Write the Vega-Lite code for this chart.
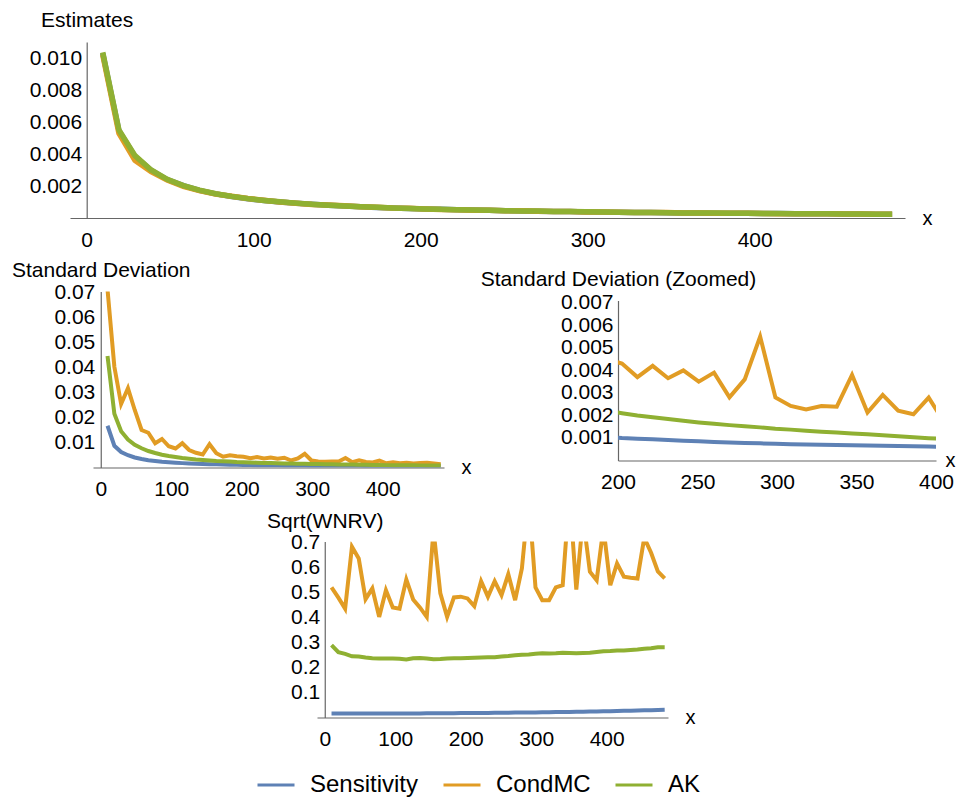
{
  "$schema": "https://vega.github.io/schema/vega-lite/v6.json",
  "autosize": {"type": "none"},
  "padding": {"left": 70, "top": 42, "right": 890, "bottom": 756},
  "bounds": "flush",
  "spacing": 73.5,
  "config": {
    "view": {"stroke": null},
    "font": "Liberation Sans",
    "axis": {"grid": false, "domainColor": "#666", "tickColor": "#666", "domainWidth": 1.2, "tickWidth": 1.2, "tickSize": 0, "labelFontSize": 21, "labelColor": "#000", "titleFontSize": 21, "titleFontWeight": "normal", "titleColor": "#000", "labelFlush": false, "labelOverlap": false}
  },
  "datasets": {
    "est": [
      {"x":9.6,"method":"Sensitivity","value":0.0103},{"x":19.3,"method":"Sensitivity","value":0.00545},{"x":28.9,"method":"Sensitivity","value":0.00385},{"x":38.6,"method":"Sensitivity","value":0.00298},{"x":48.2,"method":"Sensitivity","value":0.0024},{"x":57.9,"method":"Sensitivity","value":0.00202},{"x":67.5,"method":"Sensitivity","value":0.00173},{"x":77.2,"method":"Sensitivity","value":0.00151},{"x":86.8,"method":"Sensitivity","value":0.00134},{"x":96.5,"method":"Sensitivity","value":0.0012},
      {"x":106.1,"method":"Sensitivity","value":0.00109},{"x":115.7,"method":"Sensitivity","value":0.001},{"x":125.4,"method":"Sensitivity","value":0.00092},{"x":135,"method":"Sensitivity","value":0.00086},{"x":144.7,"method":"Sensitivity","value":0.0008},{"x":154.3,"method":"Sensitivity","value":0.00075},{"x":164,"method":"Sensitivity","value":0.0007},{"x":173.6,"method":"Sensitivity","value":0.00066},{"x":183.3,"method":"Sensitivity","value":0.00063},{"x":192.9,"method":"Sensitivity","value":0.0006},
      {"x":202.5,"method":"Sensitivity","value":0.00057},{"x":212.2,"method":"Sensitivity","value":0.00054},{"x":221.8,"method":"Sensitivity","value":0.00052},{"x":231.5,"method":"Sensitivity","value":0.0005},{"x":241.1,"method":"Sensitivity","value":0.00048},{"x":250.8,"method":"Sensitivity","value":0.00046},{"x":260.4,"method":"Sensitivity","value":0.00044},{"x":270.1,"method":"Sensitivity","value":0.00042},{"x":279.7,"method":"Sensitivity","value":0.00041},{"x":289.4,"method":"Sensitivity","value":0.0004},
      {"x":299,"method":"Sensitivity","value":0.00038},{"x":308.6,"method":"Sensitivity","value":0.00037},{"x":318.3,"method":"Sensitivity","value":0.00036},{"x":327.9,"method":"Sensitivity","value":0.00035},{"x":337.6,"method":"Sensitivity","value":0.00034},{"x":347.2,"method":"Sensitivity","value":0.00033},{"x":356.9,"method":"Sensitivity","value":0.00032},{"x":366.5,"method":"Sensitivity","value":0.00031},{"x":376.2,"method":"Sensitivity","value":0.0003},{"x":385.8,"method":"Sensitivity","value":0.0003},
      {"x":395.4,"method":"Sensitivity","value":0.00029},{"x":405.1,"method":"Sensitivity","value":0.00028},{"x":414.7,"method":"Sensitivity","value":0.00028},{"x":424.4,"method":"Sensitivity","value":0.00027},{"x":434,"method":"Sensitivity","value":0.00026},{"x":443.7,"method":"Sensitivity","value":0.00026},{"x":453.3,"method":"Sensitivity","value":0.00025},{"x":463,"method":"Sensitivity","value":0.00025},{"x":472.6,"method":"Sensitivity","value":0.00024},{"x":482.3,"method":"Sensitivity","value":0.00024},
      {"x":9.6,"method":"CondMC","value":0.0102},{"x":19.3,"method":"CondMC","value":0.0053},{"x":28.9,"method":"CondMC","value":0.0036},{"x":38.6,"method":"CondMC","value":0.0029},{"x":48.2,"method":"CondMC","value":0.00238},{"x":57.9,"method":"CondMC","value":0.00198},{"x":67.5,"method":"CondMC","value":0.00171},{"x":77.2,"method":"CondMC","value":0.0015},{"x":86.8,"method":"CondMC","value":0.00136},{"x":96.5,"method":"CondMC","value":0.00122},
      {"x":106.1,"method":"CondMC","value":0.00111},{"x":115.7,"method":"CondMC","value":0.001},{"x":125.4,"method":"CondMC","value":0.00092},{"x":135,"method":"CondMC","value":0.00085},{"x":144.7,"method":"CondMC","value":0.00081},{"x":154.3,"method":"CondMC","value":0.00076},{"x":164,"method":"CondMC","value":0.0007},{"x":173.6,"method":"CondMC","value":0.00067},{"x":183.3,"method":"CondMC","value":0.00062},{"x":192.9,"method":"CondMC","value":0.00061},
      {"x":202.5,"method":"CondMC","value":0.00057},{"x":212.2,"method":"CondMC","value":0.00053},{"x":221.8,"method":"CondMC","value":0.00052},{"x":231.5,"method":"CondMC","value":0.00049},{"x":241.1,"method":"CondMC","value":0.00048},{"x":250.8,"method":"CondMC","value":0.00046},{"x":260.4,"method":"CondMC","value":0.00045},{"x":270.1,"method":"CondMC","value":0.00042},{"x":279.7,"method":"CondMC","value":0.00041},{"x":289.4,"method":"CondMC","value":0.00041},
      {"x":299,"method":"CondMC","value":0.00038},{"x":308.6,"method":"CondMC","value":0.00037},{"x":318.3,"method":"CondMC","value":0.00036},{"x":327.9,"method":"CondMC","value":0.00035},{"x":337.6,"method":"CondMC","value":0.00034},{"x":347.2,"method":"CondMC","value":0.00034},{"x":356.9,"method":"CondMC","value":0.00032},{"x":366.5,"method":"CondMC","value":0.00031},{"x":376.2,"method":"CondMC","value":0.0003},{"x":385.8,"method":"CondMC","value":0.0003},
      {"x":395.4,"method":"CondMC","value":0.00029},{"x":405.1,"method":"CondMC","value":0.00028},{"x":414.7,"method":"CondMC","value":0.00027},{"x":424.4,"method":"CondMC","value":0.00027},{"x":434,"method":"CondMC","value":0.00026},{"x":443.7,"method":"CondMC","value":0.00026},{"x":453.3,"method":"CondMC","value":0.00025},{"x":463,"method":"CondMC","value":0.00025},{"x":472.6,"method":"CondMC","value":0.00024},{"x":482.3,"method":"CondMC","value":0.00024},
      {"x":9.6,"method":"AK","value":0.01035},{"x":19.3,"method":"AK","value":0.0055},{"x":28.9,"method":"AK","value":0.0039},{"x":38.6,"method":"AK","value":0.003},{"x":48.2,"method":"AK","value":0.00242},{"x":57.9,"method":"AK","value":0.00203},{"x":67.5,"method":"AK","value":0.00174},{"x":77.2,"method":"AK","value":0.00152},{"x":86.8,"method":"AK","value":0.00135},{"x":96.5,"method":"AK","value":0.00121},
      {"x":106.1,"method":"AK","value":0.0011},{"x":115.7,"method":"AK","value":0.00101},{"x":125.4,"method":"AK","value":0.00093},{"x":135,"method":"AK","value":0.00086},{"x":144.7,"method":"AK","value":0.0008},{"x":154.3,"method":"AK","value":0.00075},{"x":164,"method":"AK","value":0.00071},{"x":173.6,"method":"AK","value":0.00067},{"x":183.3,"method":"AK","value":0.00063},{"x":192.9,"method":"AK","value":0.0006},
      {"x":202.5,"method":"AK","value":0.00057},{"x":212.2,"method":"AK","value":0.00054},{"x":221.8,"method":"AK","value":0.00052},{"x":231.5,"method":"AK","value":0.0005},{"x":241.1,"method":"AK","value":0.00048},{"x":250.8,"method":"AK","value":0.00046},{"x":260.4,"method":"AK","value":0.00044},{"x":270.1,"method":"AK","value":0.00043},{"x":279.7,"method":"AK","value":0.00041},{"x":289.4,"method":"AK","value":0.0004},
      {"x":299,"method":"AK","value":0.00039},{"x":308.6,"method":"AK","value":0.00037},{"x":318.3,"method":"AK","value":0.00036},{"x":327.9,"method":"AK","value":0.00035},{"x":337.6,"method":"AK","value":0.00034},{"x":347.2,"method":"AK","value":0.00033},{"x":356.9,"method":"AK","value":0.00032},{"x":366.5,"method":"AK","value":0.00031},{"x":376.2,"method":"AK","value":0.00031},{"x":385.8,"method":"AK","value":0.0003},
      {"x":395.4,"method":"AK","value":0.00029},{"x":405.1,"method":"AK","value":0.00028},{"x":414.7,"method":"AK","value":0.00028},{"x":424.4,"method":"AK","value":0.00027},{"x":434,"method":"AK","value":0.00026},{"x":443.7,"method":"AK","value":0.00026},{"x":453.3,"method":"AK","value":0.00025},{"x":463,"method":"AK","value":0.00025},{"x":472.6,"method":"AK","value":0.00024},{"x":482.3,"method":"AK","value":0.00024}
    ],
    "sd": [
      {"x":9.6,"method":"Sensitivity","value":0.0167},{"x":19.3,"method":"Sensitivity","value":0.0087},{"x":28.9,"method":"Sensitivity","value":0.0062},{"x":38.6,"method":"Sensitivity","value":0.0049},{"x":48.2,"method":"Sensitivity","value":0.004},{"x":57.9,"method":"Sensitivity","value":0.0034},{"x":67.5,"method":"Sensitivity","value":0.0029},{"x":77.2,"method":"Sensitivity","value":0.0026},{"x":86.8,"method":"Sensitivity","value":0.0023},{"x":96.5,"method":"Sensitivity","value":0.0021},
      {"x":106.1,"method":"Sensitivity","value":0.0019},{"x":115.7,"method":"Sensitivity","value":0.00175},{"x":125.4,"method":"Sensitivity","value":0.00162},{"x":135,"method":"Sensitivity","value":0.00151},{"x":144.7,"method":"Sensitivity","value":0.00142},{"x":154.3,"method":"Sensitivity","value":0.00134},{"x":164,"method":"Sensitivity","value":0.00125},{"x":173.6,"method":"Sensitivity","value":0.00118},{"x":183.3,"method":"Sensitivity","value":0.00112},{"x":192.9,"method":"Sensitivity","value":0.00105},
      {"x":202.5,"method":"Sensitivity","value":0.001},{"x":212.2,"method":"Sensitivity","value":0.00097},{"x":221.8,"method":"Sensitivity","value":0.00094},{"x":231.5,"method":"Sensitivity","value":0.00091},{"x":241.1,"method":"Sensitivity","value":0.00088},{"x":250.8,"method":"Sensitivity","value":0.00085},{"x":260.4,"method":"Sensitivity","value":0.00082},{"x":270.1,"method":"Sensitivity","value":0.0008},{"x":279.7,"method":"Sensitivity","value":0.00078},{"x":289.4,"method":"Sensitivity","value":0.00076},
      {"x":299,"method":"Sensitivity","value":0.00074},{"x":308.6,"method":"Sensitivity","value":0.00072},{"x":318.3,"method":"Sensitivity","value":0.00071},{"x":327.9,"method":"Sensitivity","value":0.0007},{"x":337.6,"method":"Sensitivity","value":0.00069},{"x":347.2,"method":"Sensitivity","value":0.00068},{"x":356.9,"method":"Sensitivity","value":0.00067},{"x":366.5,"method":"Sensitivity","value":0.00065},{"x":376.2,"method":"Sensitivity","value":0.00064},{"x":385.8,"method":"Sensitivity","value":0.00063},
      {"x":395.4,"method":"Sensitivity","value":0.00062},{"x":405.1,"method":"Sensitivity","value":0.00061},{"x":414.7,"method":"Sensitivity","value":0.0006},{"x":424.4,"method":"Sensitivity","value":0.00059},{"x":434,"method":"Sensitivity","value":0.00058},{"x":443.7,"method":"Sensitivity","value":0.00057},{"x":453.3,"method":"Sensitivity","value":0.00056},{"x":463,"method":"Sensitivity","value":0.00055},{"x":472.6,"method":"Sensitivity","value":0.00054},{"x":482.3,"method":"Sensitivity","value":0.00053},
      {"x":9.6,"method":"CondMC","value":0.0712},{"x":19.3,"method":"CondMC","value":0.0403},{"x":28.9,"method":"CondMC","value":0.0254},{"x":38.6,"method":"CondMC","value":0.0317},{"x":48.2,"method":"CondMC","value":0.023},{"x":57.9,"method":"CondMC","value":0.015},{"x":67.5,"method":"CondMC","value":0.0139},{"x":77.2,"method":"CondMC","value":0.0097},{"x":86.8,"method":"CondMC","value":0.0114},{"x":96.5,"method":"CondMC","value":0.0085},
      {"x":106.1,"method":"CondMC","value":0.0076},{"x":115.7,"method":"CondMC","value":0.0097},{"x":125.4,"method":"CondMC","value":0.007},{"x":135,"method":"CondMC","value":0.0059},{"x":144.7,"method":"CondMC","value":0.0052},{"x":154.3,"method":"CondMC","value":0.0093},{"x":164,"method":"CondMC","value":0.0057},{"x":173.6,"method":"CondMC","value":0.0043},{"x":183.3,"method":"CondMC","value":0.0049},{"x":192.9,"method":"CondMC","value":0.0045},
      {"x":202.5,"method":"CondMC","value":0.0043},{"x":212.2,"method":"CondMC","value":0.0037},{"x":221.8,"method":"CondMC","value":0.0042},{"x":231.5,"method":"CondMC","value":0.00365},{"x":241.1,"method":"CondMC","value":0.004},{"x":250.8,"method":"CondMC","value":0.0035},{"x":260.4,"method":"CondMC","value":0.0039},{"x":270.1,"method":"CondMC","value":0.0028},{"x":279.7,"method":"CondMC","value":0.0036},{"x":289.4,"method":"CondMC","value":0.0055},
      {"x":299,"method":"CondMC","value":0.0028},{"x":308.6,"method":"CondMC","value":0.00242},{"x":318.3,"method":"CondMC","value":0.00227},{"x":327.9,"method":"CondMC","value":0.00242},{"x":337.6,"method":"CondMC","value":0.00239},{"x":347.2,"method":"CondMC","value":0.0038},{"x":356.9,"method":"CondMC","value":0.00213},{"x":366.5,"method":"CondMC","value":0.00291},{"x":376.2,"method":"CondMC","value":0.00221},{"x":385.8,"method":"CondMC","value":0.00205},
      {"x":395.4,"method":"CondMC","value":0.00279},{"x":405.1,"method":"CondMC","value":0.0017},{"x":414.7,"method":"CondMC","value":0.0021},{"x":424.4,"method":"CondMC","value":0.0017},{"x":434,"method":"CondMC","value":0.0019},{"x":443.7,"method":"CondMC","value":0.0016},{"x":453.3,"method":"CondMC","value":0.0018},{"x":463,"method":"CondMC","value":0.0019},{"x":472.6,"method":"CondMC","value":0.0016},{"x":482.3,"method":"CondMC","value":0.0013},
      {"x":9.6,"method":"AK","value":0.0446},{"x":19.3,"method":"AK","value":0.0215},{"x":28.9,"method":"AK","value":0.0145},{"x":38.6,"method":"AK","value":0.0112},{"x":48.2,"method":"AK","value":0.0091},{"x":57.9,"method":"AK","value":0.0077},{"x":67.5,"method":"AK","value":0.0066},{"x":77.2,"method":"AK","value":0.0058},{"x":86.8,"method":"AK","value":0.0051},{"x":96.5,"method":"AK","value":0.0046},
      {"x":106.1,"method":"AK","value":0.0042},{"x":115.7,"method":"AK","value":0.0038},{"x":125.4,"method":"AK","value":0.0035},{"x":135,"method":"AK","value":0.0032},{"x":144.7,"method":"AK","value":0.003},{"x":154.3,"method":"AK","value":0.0028},{"x":164,"method":"AK","value":0.0026},{"x":173.6,"method":"AK","value":0.0025},{"x":183.3,"method":"AK","value":0.0024},{"x":192.9,"method":"AK","value":0.0022},
      {"x":202.5,"method":"AK","value":0.0021},{"x":212.2,"method":"AK","value":0.002},{"x":221.8,"method":"AK","value":0.00192},{"x":231.5,"method":"AK","value":0.00184},{"x":241.1,"method":"AK","value":0.00176},{"x":250.8,"method":"AK","value":0.00169},{"x":260.4,"method":"AK","value":0.00163},{"x":270.1,"method":"AK","value":0.00157},{"x":279.7,"method":"AK","value":0.00152},{"x":289.4,"method":"AK","value":0.00147},
      {"x":299,"method":"AK","value":0.00141},{"x":308.6,"method":"AK","value":0.00137},{"x":318.3,"method":"AK","value":0.00132},{"x":327.9,"method":"AK","value":0.00128},{"x":337.6,"method":"AK","value":0.00124},{"x":347.2,"method":"AK","value":0.0012},{"x":356.9,"method":"AK","value":0.00116},{"x":366.5,"method":"AK","value":0.00112},{"x":376.2,"method":"AK","value":0.00108},{"x":385.8,"method":"AK","value":0.00103},
      {"x":395.4,"method":"AK","value":0.00099},{"x":405.1,"method":"AK","value":0.00095},{"x":414.7,"method":"AK","value":0.00093},{"x":424.4,"method":"AK","value":0.00091},{"x":434,"method":"AK","value":0.00089},{"x":443.7,"method":"AK","value":0.00087},{"x":453.3,"method":"AK","value":0.00085},{"x":463,"method":"AK","value":0.00083},{"x":472.6,"method":"AK","value":0.00081},{"x":482.3,"method":"AK","value":0.0008}
    ],
    "wnrv": [
      {"x":9.6,"method":"Sensitivity","value":0.016},{"x":19.3,"method":"Sensitivity","value":0.0158},{"x":28.9,"method":"Sensitivity","value":0.0157},{"x":38.6,"method":"Sensitivity","value":0.0157},{"x":48.2,"method":"Sensitivity","value":0.0157},{"x":57.9,"method":"Sensitivity","value":0.0158},{"x":67.5,"method":"Sensitivity","value":0.0158},{"x":77.2,"method":"Sensitivity","value":0.0159},{"x":86.8,"method":"Sensitivity","value":0.016},{"x":96.5,"method":"Sensitivity","value":0.0161},
      {"x":106.1,"method":"Sensitivity","value":0.0162},{"x":115.7,"method":"Sensitivity","value":0.0163},{"x":125.4,"method":"Sensitivity","value":0.0164},{"x":135,"method":"Sensitivity","value":0.0165},{"x":144.7,"method":"Sensitivity","value":0.0167},{"x":154.3,"method":"Sensitivity","value":0.0168},{"x":164,"method":"Sensitivity","value":0.017},{"x":173.6,"method":"Sensitivity","value":0.0172},{"x":183.3,"method":"Sensitivity","value":0.0174},{"x":192.9,"method":"Sensitivity","value":0.0176},
      {"x":202.5,"method":"Sensitivity","value":0.0178},{"x":212.2,"method":"Sensitivity","value":0.018},{"x":221.8,"method":"Sensitivity","value":0.0182},{"x":231.5,"method":"Sensitivity","value":0.0185},{"x":241.1,"method":"Sensitivity","value":0.0188},{"x":250.8,"method":"Sensitivity","value":0.019},{"x":260.4,"method":"Sensitivity","value":0.0193},{"x":270.1,"method":"Sensitivity","value":0.0196},{"x":279.7,"method":"Sensitivity","value":0.0199},{"x":289.4,"method":"Sensitivity","value":0.0202},
      {"x":299,"method":"Sensitivity","value":0.0205},{"x":308.6,"method":"Sensitivity","value":0.0209},{"x":318.3,"method":"Sensitivity","value":0.0212},{"x":327.9,"method":"Sensitivity","value":0.0216},{"x":337.6,"method":"Sensitivity","value":0.022},{"x":347.2,"method":"Sensitivity","value":0.0224},{"x":356.9,"method":"Sensitivity","value":0.0228},{"x":366.5,"method":"Sensitivity","value":0.0233},{"x":376.2,"method":"Sensitivity","value":0.0238},{"x":385.8,"method":"Sensitivity","value":0.0243},
      {"x":395.4,"method":"Sensitivity","value":0.0248},{"x":405.1,"method":"Sensitivity","value":0.0254},{"x":414.7,"method":"Sensitivity","value":0.026},{"x":424.4,"method":"Sensitivity","value":0.0266},{"x":434,"method":"Sensitivity","value":0.0272},{"x":443.7,"method":"Sensitivity","value":0.0279},{"x":453.3,"method":"Sensitivity","value":0.0286},{"x":463,"method":"Sensitivity","value":0.0294},{"x":472.6,"method":"Sensitivity","value":0.0302},{"x":482.3,"method":"Sensitivity","value":0.031},
      {"x":9.6,"method":"CondMC","value":0.521},{"x":19.3,"method":"CondMC","value":0.48},{"x":28.9,"method":"CondMC","value":0.436},{"x":38.6,"method":"CondMC","value":0.684},{"x":48.2,"method":"CondMC","value":0.637},{"x":57.9,"method":"CondMC","value":0.474},{"x":67.5,"method":"CondMC","value":0.517},{"x":77.2,"method":"CondMC","value":0.403},{"x":86.8,"method":"CondMC","value":0.51},{"x":96.5,"method":"CondMC","value":0.441},
      {"x":106.1,"method":"CondMC","value":0.436},{"x":115.7,"method":"CondMC","value":0.553},{"x":125.4,"method":"CondMC","value":0.473},{"x":135,"method":"CondMC","value":0.441},{"x":144.7,"method":"CondMC","value":0.403},{"x":154.3,"method":"CondMC","value":0.75},{"x":164,"method":"CondMC","value":0.497},{"x":173.6,"method":"CondMC","value":0.403},{"x":183.3,"method":"CondMC","value":0.481},{"x":192.9,"method":"CondMC","value":0.484},
      {"x":202.5,"method":"CondMC","value":0.477},{"x":212.2,"method":"CondMC","value":0.446},{"x":221.8,"method":"CondMC","value":0.546},{"x":231.5,"method":"CondMC","value":0.484},{"x":241.1,"method":"CondMC","value":0.546},{"x":250.8,"method":"CondMC","value":0.49},{"x":260.4,"method":"CondMC","value":0.574},{"x":270.1,"method":"CondMC","value":0.47},{"x":279.7,"method":"CondMC","value":0.597},{"x":289.4,"method":"CondMC","value":0.88},
      {"x":299,"method":"CondMC","value":0.521},{"x":308.6,"method":"CondMC","value":0.47},{"x":318.3,"method":"CondMC","value":0.47},{"x":327.9,"method":"CondMC","value":0.521},{"x":337.6,"method":"CondMC","value":0.53},{"x":347.2,"method":"CondMC","value":0.9},{"x":356.9,"method":"CondMC","value":0.512},{"x":366.5,"method":"CondMC","value":0.8},{"x":376.2,"method":"CondMC","value":0.584},{"x":385.8,"method":"CondMC","value":0.55},
      {"x":395.4,"method":"CondMC","value":0.76},{"x":405.1,"method":"CondMC","value":0.53},{"x":414.7,"method":"CondMC","value":0.617},{"x":424.4,"method":"CondMC","value":0.564},{"x":434,"method":"CondMC","value":0.56},{"x":443.7,"method":"CondMC","value":0.557},{"x":453.3,"method":"CondMC","value":0.72},{"x":463,"method":"CondMC","value":0.66},{"x":472.6,"method":"CondMC","value":0.585},{"x":482.3,"method":"CondMC","value":0.557},
      {"x":9.6,"method":"AK","value":0.29},{"x":19.3,"method":"AK","value":0.262},{"x":28.9,"method":"AK","value":0.255},{"x":38.6,"method":"AK","value":0.245},{"x":48.2,"method":"AK","value":0.244},{"x":57.9,"method":"AK","value":0.24},{"x":67.5,"method":"AK","value":0.237},{"x":77.2,"method":"AK","value":0.236},{"x":86.8,"method":"AK","value":0.236},{"x":96.5,"method":"AK","value":0.236},
      {"x":106.1,"method":"AK","value":0.235},{"x":115.7,"method":"AK","value":0.232},{"x":125.4,"method":"AK","value":0.237},{"x":135,"method":"AK","value":0.238},{"x":144.7,"method":"AK","value":0.236},{"x":154.3,"method":"AK","value":0.233},{"x":164,"method":"AK","value":0.234},{"x":173.6,"method":"AK","value":0.236},{"x":183.3,"method":"AK","value":0.237},{"x":192.9,"method":"AK","value":0.237},
      {"x":202.5,"method":"AK","value":0.238},{"x":212.2,"method":"AK","value":0.239},{"x":221.8,"method":"AK","value":0.24},{"x":231.5,"method":"AK","value":0.241},{"x":241.1,"method":"AK","value":0.241},{"x":250.8,"method":"AK","value":0.244},{"x":260.4,"method":"AK","value":0.246},{"x":270.1,"method":"AK","value":0.249},{"x":279.7,"method":"AK","value":0.251},{"x":289.4,"method":"AK","value":0.252},
      {"x":299,"method":"AK","value":0.255},{"x":308.6,"method":"AK","value":0.257},{"x":318.3,"method":"AK","value":0.256},{"x":327.9,"method":"AK","value":0.257},{"x":337.6,"method":"AK","value":0.259},{"x":347.2,"method":"AK","value":0.258},{"x":356.9,"method":"AK","value":0.257},{"x":366.5,"method":"AK","value":0.258},{"x":376.2,"method":"AK","value":0.259},{"x":385.8,"method":"AK","value":0.262},
      {"x":395.4,"method":"AK","value":0.265},{"x":405.1,"method":"AK","value":0.266},{"x":414.7,"method":"AK","value":0.268},{"x":424.4,"method":"AK","value":0.268},{"x":434,"method":"AK","value":0.27},{"x":443.7,"method":"AK","value":0.272},{"x":453.3,"method":"AK","value":0.275},{"x":463,"method":"AK","value":0.277},{"x":472.6,"method":"AK","value":0.281},{"x":482.3,"method":"AK","value":0.281}
    ]
  },
  "vconcat": [
    {
      "width": 835, "height": 176,
      "data": {"name": "est"},
      "mark": {"type": "line", "strokeWidth": 5.5, "clip": true},
      "encoding": {
        "x": {"field": "x", "type": "quantitative", "scale": {"domain": [-10, 490], "nice": false, "zero": false},
          "axis": {"values": [0,20,40,60,80,100,120,140,160,180,200,220,240,260,280,300,320,340,360,380,400,420,440,460,480], "format": "d", "labelExpr": "datum.value % 100 === 0 ? datum.label : ''", "labelPadding": 11, "title": "x", "titleFontSize": 20, "titleX": 857, "titleY": 6, "titleAlign": "center", "titleBaseline": "alphabetic", "encode": {"ticks": {"update": {"y2": {"signal": "datum.value % 100 === 0 ? -6 : -3"}}}}}},
        "y": {"field": "value", "type": "quantitative", "scale": {"domain": [0, 0.011], "nice": false},
          "axis": {"values": [0.0005,0.001,0.0015,0.002,0.0025,0.003,0.0035,0.004,0.0045,0.005,0.0055,0.006,0.0065,0.007,0.0075,0.008,0.0085,0.009,0.0095,0.01,0.0105,0.011], "labelExpr": "round(datum.value*10000) % 20 === 0 ? format(datum.value, '.3f') : ''", "labelPadding": 5, "offset": -16.7, "title": "Estimates", "titleAngle": 0, "titleAlign": "center", "titleBaseline": "alphabetic", "titleX": 0, "titleY": -16, "encode": {"ticks": {"update": {"x2": {"signal": "round(datum.value*10000) % 20 === 0 ? 6 : 3"}}}}}},
        "color": {"field": "method", "type": "nominal", "scale": {"domain": ["Sensitivity", "CondMC", "AK"], "range": ["#5E81B5", "#E19C24", "#8FB032"]},
          "legend": {"orient": "none", "legendX": 186, "legendY": 723, "direction": "horizontal", "title": null, "symbolType": "stroke", "symbolSize": 1369, "symbolStrokeWidth": 3, "labelFontSize": 24, "labelOffset": 14, "columnPadding": 18, "padding": 0, "labelColor": "#000"}}
      }
    },
    {
      "hconcat": [
        {"width": 23, "height": 176, "data": {"values": []}, "mark": "point"},
        {
          "width": 351, "height": 176,
          "data": {"name": "sd"},
          "mark": {"type": "line", "strokeWidth": 4, "clip": true},
          "encoding": {
            "x": {"field": "x", "type": "quantitative", "scale": {"domain": [-11, 487], "nice": false, "zero": false},
              "axis": {"values": [0,20,40,60,80,100,120,140,160,180,200,220,240,260,280,300,320,340,360,380,400,420,440,460,480], "format": "d", "labelExpr": "datum.value % 100 === 0 ? datum.label : ''", "labelPadding": 11, "title": "x", "titleFontSize": 20, "titleX": 373, "titleY": 6, "titleAlign": "center", "titleBaseline": "alphabetic", "encode": {"ticks": {"update": {"y2": {"signal": "datum.value % 100 === 0 ? -6 : -3"}}}}}},
            "y": {"field": "value", "type": "quantitative", "scale": {"domain": [0, 0.0704], "nice": false},
              "axis": {"values": [0.002,0.004,0.006,0.008,0.01,0.012,0.014,0.016,0.018,0.02,0.022,0.024,0.026,0.028,0.03,0.032,0.034,0.036,0.038,0.04,0.042,0.044,0.046,0.048,0.05,0.052,0.054,0.056,0.058,0.06,0.062,0.064,0.066,0.068,0.07], "labelExpr": "round(datum.value*1000) % 10 === 0 ? format(datum.value, '.2f') : ''", "labelPadding": 6, "offset": -7.75, "title": "Standard Deviation", "titleAngle": 0, "titleAlign": "center", "titleBaseline": "alphabetic", "titleX": 0, "titleY": -15.5, "encode": {"ticks": {"update": {"x2": {"signal": "round(datum.value*1000) % 10 === 0 ? 6 : 3"}}}}}},
            "color": {"field": "method", "type": "nominal", "scale": {"domain": ["Sensitivity", "CondMC", "AK"], "range": ["#5E81B5", "#E19C24", "#8FB032"]},
              "legend": {"orient": "none", "legendX": 186, "legendY": 723, "direction": "horizontal", "title": null, "symbolType": "stroke", "symbolSize": 1369, "symbolStrokeWidth": 3, "labelFontSize": 24, "labelOffset": 14, "columnPadding": 18, "padding": 0, "labelColor": "#000"}}
          }
        },
        {"width": 174, "height": 1, "data": {"values": []}, "mark": "point"},
        {
          "width": 318, "height": 169,
          "data": {"name": "sd"},
          "mark": {"type": "line", "strokeWidth": 4, "clip": true},
          "encoding": {
            "x": {"field": "x", "type": "quantitative", "scale": {"domain": [200, 400], "nice": false, "zero": false},
              "axis": {"values": [200,210,220,230,240,250,260,270,280,290,300,310,320,330,340,350,360,370,380,390,400], "format": "d", "labelExpr": "datum.value % 50 === 0 ? datum.label : ''", "labelPadding": 11, "title": "x", "titleFontSize": 20, "titleX": 332, "titleY": 6, "titleAlign": "center", "titleBaseline": "alphabetic", "encode": {"ticks": {"update": {"y2": {"signal": "datum.value % 50 === 0 ? -6 : -3"}}}}}},
            "y": {"field": "value", "type": "quantitative", "scale": {"domain": [0, 0.0071], "range": [169, 9], "nice": false},
              "axis": {"values": [0.0002,0.0004,0.0006,0.0008,0.001,0.0012,0.0014,0.0016,0.0018,0.002,0.0022,0.0024,0.0026,0.0028,0.003,0.0032,0.0034,0.0036,0.0038,0.004,0.0042,0.0044,0.0046,0.0048,0.005,0.0052,0.0054,0.0056,0.0058,0.006,0.0062,0.0064,0.0066,0.0068,0.007], "labelExpr": "round(datum.value*10000) % 10 === 0 ? format(datum.value, '.3f') : ''", "labelPadding": 5, "title": "Standard Deviation (Zoomed)", "titleAngle": 0, "titleAlign": "center", "titleBaseline": "alphabetic", "titleX": 0, "titleY": -6.5, "encode": {"ticks": {"update": {"x2": {"signal": "round(datum.value*10000) % 10 === 0 ? 6 : 3"}}}}}},
            "color": {"field": "method", "type": "nominal", "scale": {"domain": ["Sensitivity", "CondMC", "AK"], "range": ["#5E81B5", "#E19C24", "#8FB032"]},
              "legend": {"orient": "none", "legendX": 186, "legendY": 723, "direction": "horizontal", "title": null, "symbolType": "stroke", "symbolSize": 1369, "symbolStrokeWidth": 3, "labelFontSize": 24, "labelOffset": 14, "columnPadding": 18, "padding": 0, "labelColor": "#000"}}
          }
        }
      ],
      "spacing": 0,
      "bounds": "flush"
    },
    {"width": 1, "height": 102.5, "data": {"values": []}, "mark": "point"},
    {
      "hconcat": [
        {"width": 247, "height": 176, "data": {"values": []}, "mark": "point"},
        {
          "width": 351, "height": 176,
          "data": {"name": "wnrv"},
          "mark": {"type": "line", "strokeWidth": 4, "clip": true},
          "encoding": {
            "x": {"field": "x", "type": "quantitative", "scale": {"domain": [-11, 487], "nice": false, "zero": false},
              "axis": {"values": [0,20,40,60,80,100,120,140,160,180,200,220,240,260,280,300,320,340,360,380,400,420,440,460,480], "format": "d", "labelExpr": "datum.value % 100 === 0 ? datum.label : ''", "labelPadding": 11, "title": "x", "titleFontSize": 20, "titleX": 373, "titleY": 6, "titleAlign": "center", "titleBaseline": "alphabetic", "encode": {"ticks": {"update": {"y2": {"signal": "datum.value % 100 === 0 ? -6 : -3"}}}}}},
            "y": {"field": "value", "type": "quantitative", "scale": {"domain": [0, 0.705], "nice": false},
              "axis": {"values": [0.02,0.04,0.06,0.08,0.1,0.12,0.14,0.16,0.18,0.2,0.22,0.24,0.26,0.28,0.3,0.32,0.34,0.36,0.38,0.4,0.42,0.44,0.46,0.48,0.5,0.52,0.54,0.56,0.58,0.6,0.62,0.64,0.66,0.68,0.7], "labelExpr": "round(datum.value*100) % 10 === 0 ? format(datum.value, '.1f') : ''", "labelPadding": 5, "offset": -7.75, "title": "Sqrt(WNRV)", "titleAngle": 0, "titleAlign": "center", "titleBaseline": "alphabetic", "titleX": 0, "titleY": -14.5, "encode": {"ticks": {"update": {"x2": {"signal": "round(datum.value*100) % 10 === 0 ? 6 : 3"}}}}}},
            "color": {"field": "method", "type": "nominal", "scale": {"domain": ["Sensitivity", "CondMC", "AK"], "range": ["#5E81B5", "#E19C24", "#8FB032"]},
              "legend": {"orient": "none", "legendX": 186, "legendY": 723, "direction": "horizontal", "title": null, "symbolType": "stroke", "symbolSize": 1369, "symbolStrokeWidth": 3, "labelFontSize": 24, "labelOffset": 14, "columnPadding": 18, "padding": 0, "labelColor": "#000"}}
          }
        }
      ],
      "spacing": 0,
      "bounds": "flush"
    }
  ]
}
